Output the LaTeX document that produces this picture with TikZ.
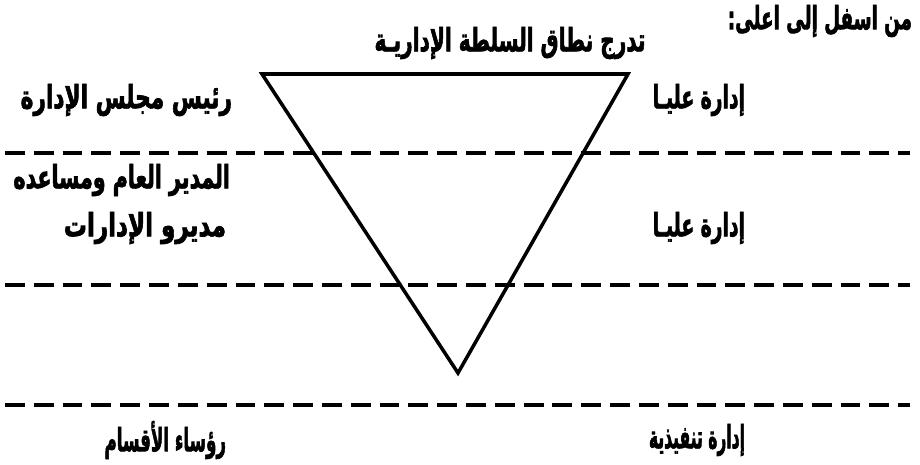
\documentclass[tikz,border=0pt]{standalone}
\usepackage{fontspec}
\usepackage{graphicx}
\usepackage{xcolor}
\usepackage{tikz}
\usetikzlibrary{positioning}
\TeXXeTstate=1
\newfontfamily\arabicfont[Script=Arabic,BoldFeatures={FakeBold=2.5}]{DejaVu Sans}
\newcommand\arw[3]{\scalebox{#1}[#2]{\arabicfont\bfseries #3}}
\definecolor{ink}{HTML}{000000}
\tikzset{
    every picture/.style={line join=miter},
    lbl/.style={inner sep=0pt,outer sep=0pt,text=ink,anchor=east,
      font=\fontsize{13}{15}\selectfont},
    levelline/.style={draw=ink,line width=2.5pt,dash pattern=on 11.3pt off 5.1pt},
    pyramid/.style={draw=ink,line width=2pt}
}
\begin{document}
\begin{tikzpicture}[x=0.02cm,y=-0.02cm]
  \useasboundingbox (0,0) rectangle (920,464);
  \node[lbl] (dir) at (912,21) {\arw{0.8}{1.4}{\beginR من اسفل إلى اعلى:\endR}};
  \node[lbl,anchor=center] (title) at (510,43) {\arw{0.88}{1.4}{\beginR تدرج نطاق السلطة الإداريـة\endR}};
  \coordinate (tl) at (262,74);
  \coordinate (tr) at (628,74);
  \coordinate (tip) at (458,373);
  \draw[pyramid] (tl) -- (tr) -- (tip) -- cycle;
  \foreach \y [count=\i] in {153,285,405}{
    \coordinate (a\i) at (5,\y);
    \coordinate (b\i) at (910,\y);
    \draw[levelline] (a\i) -- (b\i);}
  \node[lbl] (chair) at (232,100) {\arw{0.95}{1.4}{\beginR رئيس مجلس الإدارة\endR}};
  \node[lbl] (top1) at (745,100) {\arw{0.82}{1.4}{\beginR إدارة عليـا\endR}};
  \node[lbl] (gm) at (230,180) {\arw{0.9}{1.4}{\beginR المدير العام ومساعده\endR}};
  \node[lbl] (mgrs) at (226,228) {\arw{1.01}{1.4}{\beginR مديرو الإدارات\endR}};
  \node[lbl] (top2) at (745,228) {\arw{0.82}{1.4}{\beginR إدارة عليـا\endR}};
  \node[lbl] (heads) at (226,440) {\arw{0.73}{1.4}{\beginR رؤساء الأقسام\endR}};
  \node[lbl] (exec) at (745,440) {\arw{0.68}{1.4}{\beginR إدارة تنفيذية\endR}};
\end{tikzpicture}
\end{document}
